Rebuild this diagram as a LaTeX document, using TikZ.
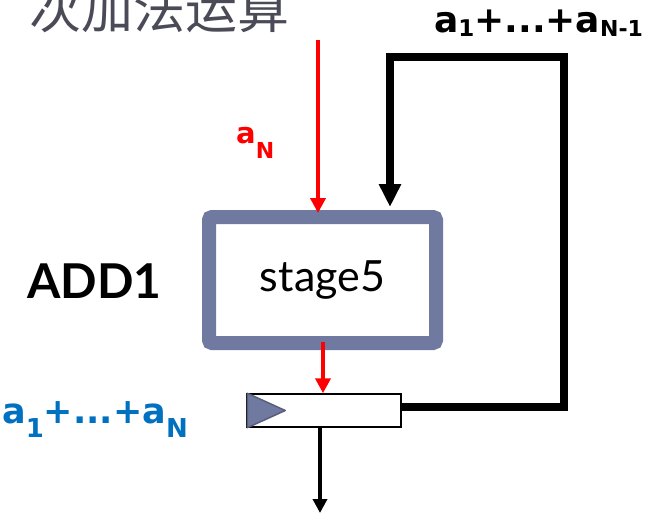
\documentclass[tikz,border=0pt]{standalone}
\usepackage{fontspec}
\setmainfont{Lato}
\newfontfamily\cjk{Noto Sans CJK SC}
\newfontfamily\lblfont{DejaVu Sans}
\usetikzlibrary{arrows.meta}
\definecolor{boxblue}{RGB}{112,121,160}
\definecolor{triedge}{RGB}{88,94,124}
\definecolor{sumblue}{RGB}{0,112,192}
\definecolor{titlegrey}{RGB}{75,75,87}
\newcommand{\lowsub}[3]{\raisebox{-#1}{\fontsize{#2}{#2}\selectfont #3}}
\tikzset{
  lbl/.style={inner sep=0pt, anchor=base west},
  redarrow/.style={draw=red, line width=4pt, -{Triangle[length=15pt,width=15pt]}},
  blackarrow/.style={draw=black, line width=4.5pt, -{Triangle[length=14pt,width=14pt]}},
  fbarrow/.style={draw=black, line width=7.5pt, line join=miter, -{Triangle[length=23pt,width=21pt]}},
  stagebox/.style={draw=boxblue, line width=14pt, rounded corners=3pt, fill=white,
     minimum width=227pt, minimum height=126pt, inner sep=0pt},
  regbox/.style={draw=black, line width=1.5pt, fill=white, minimum width=154pt,
     minimum height=33pt, inner sep=0pt}
}
\begin{document}
\begin{tikzpicture}[x=1pt,y=-1pt]
\useasboundingbox (0,0) rectangle (650,519);
% title (cut off at top)
\node[inner sep=0pt, anchor=base west, text=titlegrey, font=\cjk\fontsize{52pt}{52pt}\selectfont] (title) at (29,29) {次加法运算};
% stage box
\node[stagebox, font=\fontsize{43pt}{43pt}\selectfont] (stage) at (322.5,280) {stage5};
% register
\node[regbox] (reg) at (324,410.5) {};
\filldraw[fill=boxblue, draw=triedge, line width=1.5pt, line join=round]
  ([xshift=1pt]reg.north west) -- ([xshift=39pt]reg.west) -- ([xshift=1pt]reg.south west) -- cycle;
% coordinates
\coordinate (inA) at (318,40);
\coordinate (outY) at (320,513);
\coordinate (fbR) at (564,407);
\coordinate (fbTR) at (564,57);
\coordinate (fbTL) at (390,57);
\coordinate (fbEnd) at (390,207);
% arrows
\draw[redarrow] (inA) -- ([yshift=-3pt]inA |- stage.north);
\draw[redarrow] ([xshift=0.5pt,yshift=8pt]stage.south) -- ([xshift=0.5pt]stage.south |- reg.north);
\draw[blackarrow] ([xshift=-4pt]reg.south) -- (outY);
\draw[fbarrow] ([xshift=-0.75pt]reg.east |- fbR) -- (fbR) -- (fbTR) -- (fbTL) -- (fbEnd);
% labels
\node[lbl, font=\lblfont\bfseries\fontsize{36pt}{36pt}\selectfont] (prevsum) at (434,33)
  {a\lowsub{4pt}{23pt}{1}+...+a\lowsub{4pt}{22pt}{N-1}};
\node[lbl, text=red, font=\lblfont\bfseries\fontsize{29pt}{29pt}\selectfont] (aN) at (236,143)
  {a\lowsub{15pt}{22pt}{N}};
\node[lbl, font=\bfseries\fontsize{48pt}{48pt}\selectfont] (addname) at (27,298) {ADD1};
\node[lbl, text=sumblue, font=\lblfont\bfseries\fontsize{35pt}{35pt}\selectfont] (allsum) at (2,423)
  {a\lowsub{14pt}{26pt}{1}+...+a\lowsub{14pt}{26pt}{N}};
\end{tikzpicture}
\end{document}
